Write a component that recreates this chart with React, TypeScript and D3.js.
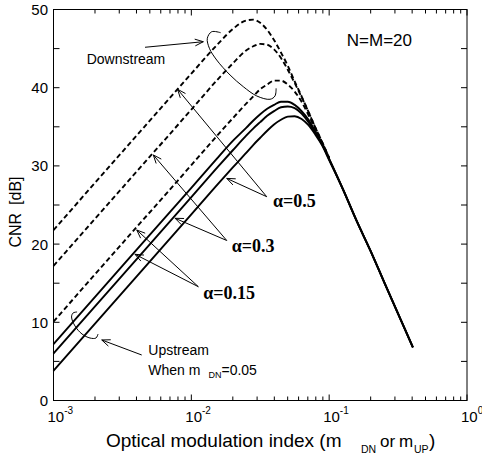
import React from 'react';
import * as d3 from 'd3';

// x-axis values (optical modulation index)
const mValues = [0.001, 0.00316, 0.01, 0.0158, 0.02, 0.0251, 0.0282, 0.0316, 0.0355, 0.0398, 0.0447, 0.0501, 0.0562, 0.0631, 0.0708, 0.0794, 0.0891, 0.1, 0.126, 0.158, 0.2, 0.251, 0.316, 0.355, 0.405];

// Downstream CNR (dashed)
const downAlpha05 = [21.8, 31.8, 41.8, 45.7, 47.5, 48.6, 48.7, 48.3, 47.4, 46.1, 44.5, 42.8, 40.8, 38.9, 36.9, 34.9, 33.0, 31.0, null, null, null, null, null, null, null];
const downAlpha03 = [17.2, 27.2, 37.2, 41.2, 43.1, 44.8, 45.3, 45.6, 45.5, 44.9, 43.8, 42.3, 40.6, 38.8, 36.9, 34.9, 33.0, 31.0, null, null, null, null, null, null, null];
const downAlpha015 = [10.1, 20.1, 30.1, 34.1, 36.1, 38.0, 38.9, 39.8, 40.4, 40.9, 40.9, 40.4, 39.5, 38.2, 36.5, 34.7, 32.9, 31.0, null, null, null, null, null, null, null];

// Upstream CNR (solid), when m_DN = 0.05
const upAlpha015 = [7.2, 17.2, 27.2, 31.2, 33.2, 34.9, 35.8, 36.6, 37.3, 37.8, 38.2, 38.2, 37.8, 37.0, 35.9, 34.4, 32.8, 30.9, 27.0, 23.0, 19.1, 15.1, 11.1, 9.1, 6.8];
const upAlpha03 = [6.0, 16.0, 26.0, 30.0, 32.0, 33.9, 34.8, 35.6, 36.4, 37.0, 37.5, 37.6, 37.4, 36.7, 35.6, 34.2, 32.7, 30.85, 27.0, 23.0, 19.1, 15.1, 11.1, 9.1, 6.8];
const upAlpha05 = [3.8, 13.8, 23.8, 27.8, 29.8, 31.7, 32.7, 33.6, 34.5, 35.3, 35.9, 36.3, 36.35, 36.0, 35.2, 34.0, 32.6, 30.75, 27.0, 23.0, 19.1, 15.1, 11.1, 9.1, 6.8];

const yTickValues = [0, 5, 10, 15, 20, 25, 30, 35, 40, 45, 50];
const yTickLabels = [0, 10, 20, 30, 40, 50];
const xDecades = [-3, -2, -1, 0];
const minorMultipliers = [2, 3, 4, 5, 6, 7, 8, 9];

const alphaLabels = ['α=0.5', 'α=0.3', 'α=0.15'];

// annotation layout, in [log10(m), CNR]
const alphaLayout = [
  { text: [-1.407, 24.8], base: [-1.453, 26.06], tips: [[-2.1, 39.8], [-1.743, 28.4]] },
  { text: [-1.707, 19.03], base: [-1.743, 20.46], tips: [[-2.276, 31.4], [-2.118, 23.3]] },
  { text: [-1.913, 12.94], base: [-1.949, 14.55], tips: [[-2.396, 21.8], [-2.409, 18.7]] },
];
const topBrace = [[-1.787, 47.03], [-1.852, 47.16], [-1.884, 46.32], [-1.869, 45.04], [-1.816, 43.54], [-1.719, 41.62], [-1.623, 40.13], [-1.525, 38.94], [-1.429, 38.52], [-1.393, 38.94], [-1.385, 39.92]];
const bottomBrace = [[-2.829, 11.32], [-2.858, 11.19], [-2.869, 10.68], [-2.844, 9.53], [-2.793, 8.5], [-2.735, 7.99], [-2.692, 7.99], [-2.677, 8.5]];

const SANS = 'Liberation Sans, Arial, Helvetica, sans-serif';
const SERIF = 'Liberation Serif, Times New Roman, serif';

export default function App() {
  const x = d3.scaleLog().domain([1e-3, 1]).range([53.5, 467]);
  const y = d3.scaleLinear().domain([0, 50]).range([400.5, 9.5]);
  const P = (p: number[]) => [x(Math.pow(10, p[0])), y(p[1])];

  const line = d3
    .line<[number, number | null]>()
    .defined((d) => d[1] != null)
    .x((d) => x(d[0]))
    .y((d) => y(d[1] as number))
    .curve(d3.curveMonotoneX);

  const series = (vals: (number | null)[]) => mValues.map((m, i) => [m, vals[i]] as [number, number | null]);

  const dashed = [downAlpha05, downAlpha03, downAlpha015];
  const solid = [upAlpha015, upAlpha03, upAlpha05];

  const braceLine = d3.line<number[]>().x((d) => P(d)[0]).y((d) => P(d)[1]).curve(d3.curveCatmullRom);

  const arrow = (from: number[], to: number[], key: string) => {
    const dx = from[0] - to[0];
    const dy = from[1] - to[1];
    const len = Math.hypot(dx, dy);
    const ux = dx / len, uy = dy / len;
    const L = 9, th = (22 * Math.PI) / 180;
    const r = (a: number) => [to[0] + L * (ux * Math.cos(a) - uy * Math.sin(a)), to[1] + L * (ux * Math.sin(a) + uy * Math.cos(a))];
    const h1 = r(th), h2 = r(-th);
    return (
      <g key={key} stroke="#000" strokeWidth={1} fill="none">
        <line x1={from[0]} y1={from[1]} x2={to[0]} y2={to[1]} />
        <polyline points={`${h1[0]},${h1[1]} ${to[0]},${to[1]} ${h2[0]},${h2[1]}`} />
      </g>
    );
  };

  const x0 = 53.5, x1 = 467, y0 = 400.5, y1 = 9.5;

  const xMinor: number[] = [];
  [-3, -2, -1].forEach((d) => minorMultipliers.forEach((k) => xMinor.push(k * Math.pow(10, d))));

  return (
    <svg width={482} height={457} style={{ position: 'absolute', left: 0, top: 0, background: '#fff' }}>
      <rect x={0} y={0} width={482} height={457} fill="#fff" />
      {/* frame */}
      <rect x={x0} y={y1} width={x1 - x0} height={y0 - y1} fill="none" stroke="#000" strokeWidth={1} />
      {/* y ticks */}
      {yTickValues.map((v) => (
        <g key={'yt' + v} stroke="#000" strokeWidth={1}>
          <line x1={x0} x2={x0 + 6} y1={y(v)} y2={y(v)} />
          <line x1={x1} x2={x1 - 6} y1={y(v)} y2={y(v)} />
        </g>
      ))}
      {yTickLabels.map((v) => (
        <text key={'yl' + v} x={48} y={y(v)} dy="0.36em" textAnchor="end" fontFamily={SANS} fontSize={15}>
          {v}
        </text>
      ))}
      {/* x ticks */}
      {xDecades.map((d) => (
        <g key={'xt' + d} stroke="#000" strokeWidth={1}>
          <line x1={x(Math.pow(10, d))} x2={x(Math.pow(10, d))} y1={y0} y2={y0 - 6} />
          <line x1={x(Math.pow(10, d))} x2={x(Math.pow(10, d))} y1={y1} y2={y1 + 6} />
        </g>
      ))}
      {xMinor.map((m, i) => (
        <g key={'xm' + i} stroke="#000" strokeWidth={1}>
          <line x1={x(m)} x2={x(m)} y1={y0} y2={y0 - 4} />
          <line x1={x(m)} x2={x(m)} y1={y1} y2={y1 + 4} />
        </g>
      ))}
      {xDecades.map((d) => (
        <text key={'xl' + d} x={x(Math.pow(10, d)) - 6} y={421.5} fontFamily={SANS} fontSize={15}>
          10
          <tspan dy={-8} fontSize={10}>
            {d === 0 ? '0' : '-' + Math.abs(d)}
          </tspan>
        </text>
      ))}
      {/* axis titles */}
      <text transform="translate(20.5,212) rotate(-90)" textAnchor="middle" fontFamily={SANS} fontSize={16}>
        CNR<tspan dx={8}>[dB]</tspan>
      </text>
      <text x={106} y={447} fontFamily={SANS} fontSize={19}>
        Optical modulation index (m
      </text>
      <text x={361} y={453} fontFamily={SANS} fontSize={10.5}>DN</text>
      <text x={380} y={447} fontFamily={SANS} fontSize={17}>or</text>
      <text x={399} y={447} fontFamily={SANS} fontSize={17}>m</text>
      <text x={414} y={453} fontFamily={SANS} fontSize={10.5}>UP</text>
      <text x={429} y={447} fontFamily={SANS} fontSize={19}>)</text>

      {/* curves */}
      {dashed.map((vals, i) => (
        <path key={'d' + i} d={line(series(vals)) || ''} fill="none" stroke="#000" strokeWidth={1.9} strokeDasharray="5,3" />
      ))}
      {solid.map((vals, i) => (
        <path key={'s' + i} d={line(series(vals)) || ''} fill="none" stroke="#000" strokeWidth={1.9} />
      ))}

      {/* annotations */}
      <text x={P([-2.759, 42.97])[0]} y={P([-2.759, 42.97])[1]} fontFamily={SANS} fontSize={14}>
        Downstream
      </text>
      {arrow(P([-2.336, 45.17]), P([-1.913, 45.88]), 'dsArrow')}
      <path d={braceLine(topBrace) || ''} fill="none" stroke="#000" strokeWidth={1} />
      <path d={braceLine(bottomBrace) || ''} fill="none" stroke="#000" strokeWidth={1} />
      {arrow(P([-2.36, 5.82]), P([-2.65, 7.74]), 'usArrow')}
      <text x={P([-2.312, 5.82])[0]} y={P([-2.312, 5.82])[1]} fontFamily={SANS} fontSize={14}>
        Upstream
      </text>
      <text x={P([-2.312, 3.26])[0]} y={P([-2.312, 3.26])[1]} fontFamily={SANS} fontSize={14}>
        When m
        <tspan dx={8} dy={3} fontSize={9}>DN</tspan>
        <tspan dy={-3} fontSize={14}>=0.05</tspan>
      </text>
      <text x={P([-0.872, 45.33])[0]} y={P([-0.872, 45.33])[1]} fontFamily={SANS} fontSize={17}>
        N=M=20
      </text>

      {alphaLayout.map((a, i) => (
        <g key={'al' + i}>
          {a.tips.map((t, j) => arrow(P(a.base), P(t), `a${i}-${j}`))}
          <text x={P(a.text)[0]} y={P(a.text)[1]} fontFamily={SERIF} fontSize={18} fontWeight="bold">
            {alphaLabels[i]}
          </text>
        </g>
      ))}
    </svg>
  );
}
